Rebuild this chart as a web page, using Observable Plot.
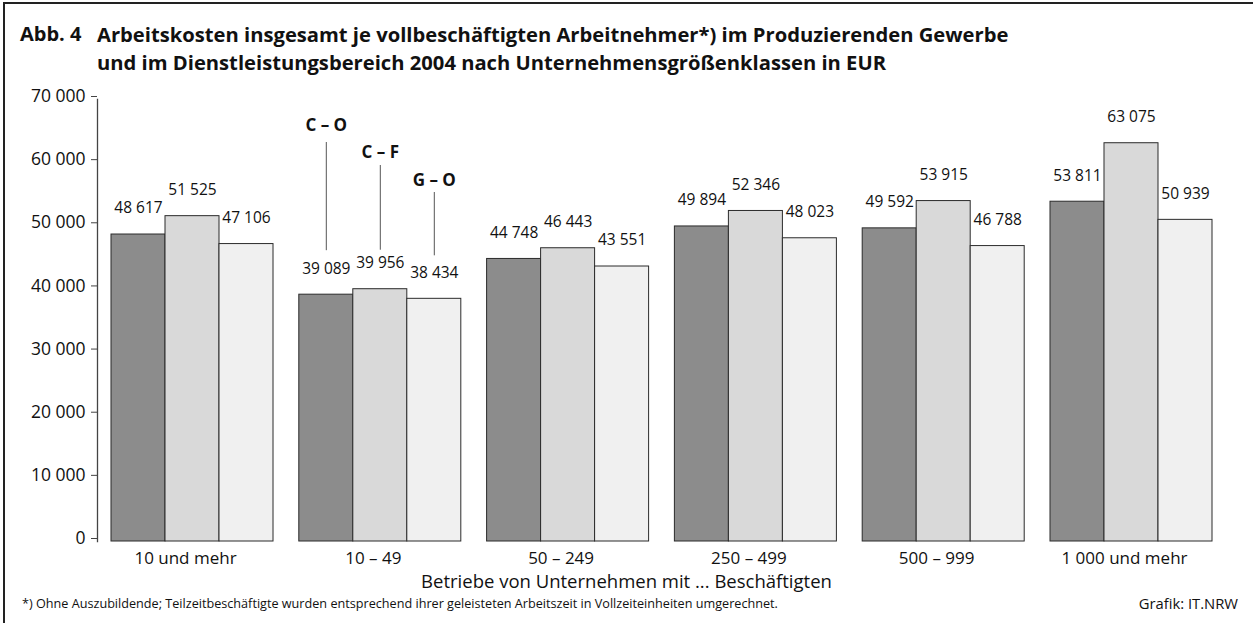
<!DOCTYPE html>
<html>
<head>
<meta charset="utf-8">
<script src="https://cdn.jsdelivr.net/npm/d3@7"></script>
<script src="https://cdn.jsdelivr.net/npm/@observablehq/plot@0.6"></script>
<style>
  html, body { margin: 0; padding: 0; background: #fff; }
  body { font-family: "Open Sans", sans-serif; color: #111; }
  #wrap { position: relative; width: 1253px; height: 623px; overflow: hidden; background: #fff; }
  #chart { position: absolute; left: 0; top: 0; }
  .frameL { position: absolute; left: 3px; top: 2px; width: 2px; height: 621px; background: #222; }
  .frameT { position: absolute; left: 3px; top: 2px; width: 1250px; height: 2px; background: #222; }
  .abb { position: absolute; left: 20px; top: 20px; font-weight: 700; font-size: 20px; line-height: 28px; }
  .title { position: absolute; left: 97px; top: 20px; font-weight: 700; font-size: 20.2px; line-height: 28px; white-space: nowrap; }
  .xlabel { position: absolute; left: 0; width: 1253px; top: 571px; text-align: center; font-size: 18.5px; line-height: 19px; }
  .note { position: absolute; left: 22px; top: 594px; font-size: 12.65px; line-height: 18px; white-space: nowrap; }
  .source { position: absolute; right: 15px; top: 593px; font-size: 14.8px; line-height: 20px; white-space: nowrap; }
</style>
</head>
<body>
<div id="wrap">
  <div id="chart"></div>
  <div class="frameL"></div>
  <div class="frameT"></div>
  <div class="abb" id="abb"></div>
  <div class="title" id="title"></div>
  <div class="xlabel" id="xlabel"></div>
  <div class="note" id="note"></div>
  <div class="source" id="source"></div>
</div>
<script>
// ---- data ----
const groups = ["10 und mehr", "10 – 49", "50 – 249", "250 – 499", "500 – 999", "1 000 und mehr"];
const series = ["C – O", "C – F", "G – O"];
const valuesCO = [48617, 39089, 44748, 49894, 49592, 53811];
const valuesCF = [51525, 39956, 46443, 52346, 53915, 63075];
const valuesGO = [47106, 38434, 43551, 48023, 46788, 50939];
const yTicks = [0, 10000, 20000, 30000, 40000, 50000, 60000, 70000];
const annotatedGroup = "10 – 49";

const abbText = "Abb. 4";
const titleLines = [
  "Arbeitskosten insgesamt je vollbeschäftigten Arbeitnehmer*) im Produzierenden Gewerbe",
  "und im Dienstleistungsbereich 2004 nach Unternehmensgrößenklassen in EUR"
];
const xLabelText = "Betriebe von Unternehmen mit ... Beschäftigten";
const noteText = "*) Ohne Auszubildende; Teilzeitbeschäftigte wurden entsprechend ihrer geleisteten Arbeitszeit in Vollzeiteinheiten umgerechnet.";
const sourceText = "Grafik: IT.NRW";

// ---- text ----
document.getElementById("abb").textContent = abbText;
const t = document.getElementById("title");
titleLines.forEach((l, i) => { if (i) t.appendChild(document.createElement("br")); t.appendChild(document.createTextNode(l)); });
document.getElementById("xlabel").textContent = xLabelText;
document.getElementById("note").textContent = noteText;
document.getElementById("source").textContent = sourceText;

// ---- chart ----
const seriesValues = [valuesCO, valuesCF, valuesGO];
const rows = groups.flatMap((g, i) => series.map((s, j) => ({group: g, series: s, value: seriesValues[j][i]})));
const fmt = d3.formatLocale({decimal: ",", thousands: " ", grouping: [3], currency: ["", ""]}).format(",d");
const yMax = yTicks[yTicks.length - 1];

// annotation styling offsets (pixels): label above bar top, line top inset below frame top, line bottom above bar top
const annStyle = [
  {label: 169, insetTop: 43, insetBottom: 44},
  {label: 137, insetTop: 66, insetBottom: 39},
  {label: 118, insetTop: 93, insetBottom: 43}
];
const annMarks = series.flatMap((s, j) => {
  const d = rows.filter(r => r.group === annotatedGroup && r.series === s);
  return [
    Plot.ruleX(d, {fx: "group", x: "series", y1: () => yMax, y2: "value",
      stroke: "#555", strokeWidth: 1, insetTop: annStyle[j].insetTop, insetBottom: annStyle[j].insetBottom}),
    Plot.text(d, {fx: "group", x: "series", y: "value", text: "series", dy: -annStyle[j].label,
      fontSize: 17, fontWeight: "bold", fill: "#111"})
  ];
});

const chart = Plot.plot({
  width: 1253,
  height: 623,
  marginTop: 99,
  marginBottom: 82,
  marginLeft: 97,
  marginRight: 41,
  style: {fontFamily: "Open Sans", fontSize: "15px", color: "#111", background: "transparent"},
  fx: {domain: groups, paddingInner: 0.0628, paddingOuter: 0, align: 0, round: false, label: null},
  x: {domain: series, paddingInner: 0, paddingOuter: 0.1296, align: 1, round: false, axis: null},
  y: {domain: [0, yMax], label: null},
  color: {domain: series, range: ["#8c8c8c", "#d9d9d9", "#f0f0f0"]},
  marks: [
    Plot.barY(rows, {fx: "group", x: "series", y: "value", fill: "series", stroke: "#2b2b2b", strokeWidth: 1}),
    Plot.text(rows, {fx: "group", x: "series", y: "value", text: d => fmt(d.value), dy: -26, fontSize: 15.5, fill: "#111"}),
    Plot.axisY({ticks: yTicks, tickFormat: fmt, tickSize: 6, tickPadding: 6, fontSize: 17.5, label: null, stroke: "#444", dy: -3}),
    Plot.frame({anchor: "left", facetAnchor: "left", stroke: "#444", strokeWidth: 1.3}),
    Plot.axisFx({anchor: "bottom", tickSize: 0, tickPadding: 10, fontSize: 17, label: null}),
    ...annMarks
  ]
});
document.getElementById("chart").appendChild(chart);
</script>
</body>
</html>
